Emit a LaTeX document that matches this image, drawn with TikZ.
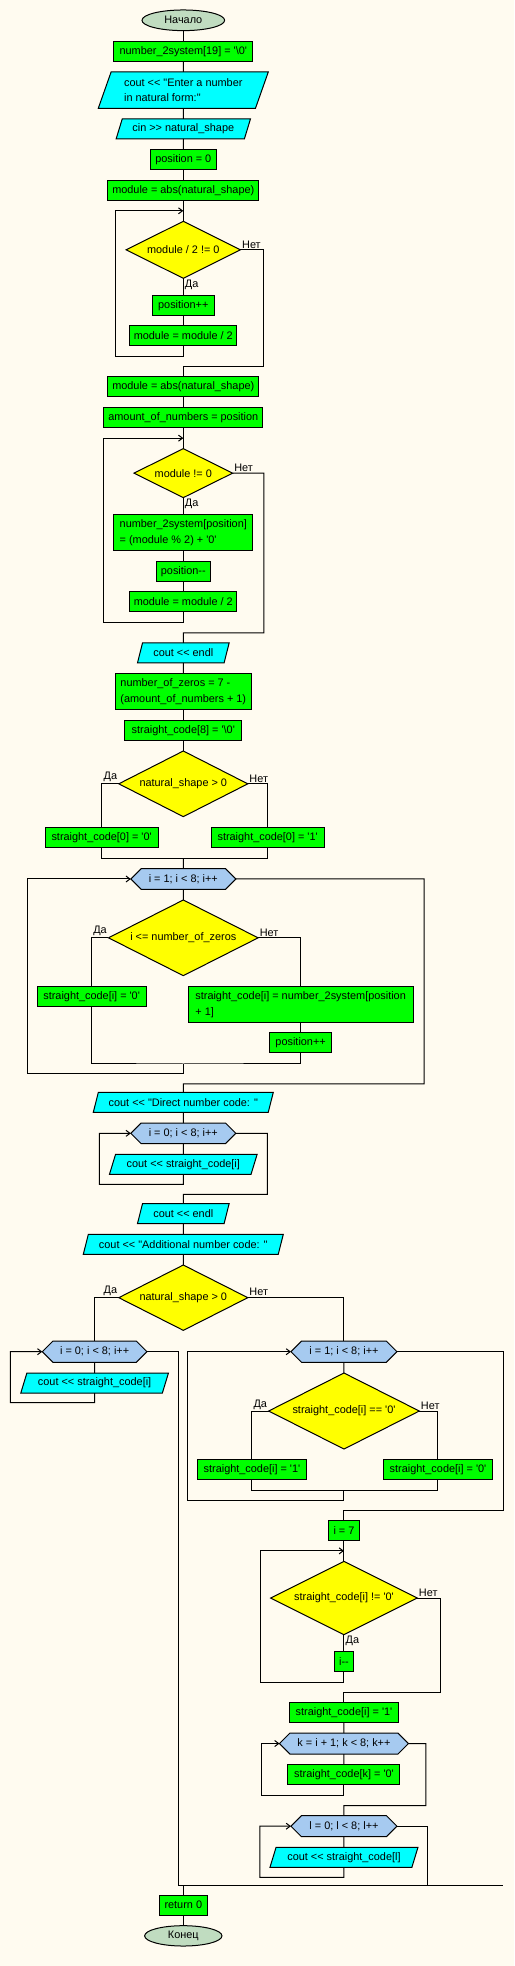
\documentclass[tikz,border=0pt]{standalone}
\usepackage{fontspec}
\setmainfont{Liberation Sans}[Ligatures=TeXOff]
\usepackage{tikz}
\usetikzlibrary{shapes.geometric, shapes.symbols, arrows.meta, positioning, calc}
\definecolor{chartbg}{HTML}{FFFBF0}
\definecolor{termgreen}{HTML}{C0DCC0}
\definecolor{loopblue}{HTML}{A6CAF0}
\definecolor{actgreen}{HTML}{00FF00}
\definecolor{iocyan}{HTML}{00FFFF}
\definecolor{condyellow}{HTML}{FFFF00}

\begin{document}
\begin{tikzpicture}[x=0.3mm, y=-0.3mm, node distance=3.2mm, line width=0.3mm,
  every node/.style={font=\fontsize{9.3}{13.6}\selectfont},
  base/.style={draw=black, inner sep=1pt, outer sep=0pt, minimum height=6mm},
  term/.style={base, ellipse, fill=termgreen},
  box/.style={base, rectangle, fill=actgreen, align=left},
  io/.style={base, trapezium, trapezium left angle=64, trapezium right angle=116,
    trapezium stretches body, fill=iocyan, align=left},
  cond/.style={base, diamond, aspect=2, inner sep=0pt, fill=condyellow},
  loophead/.style={base, signal, signal to=west and east, signal pointer angle=90,
    fill=loopblue},
  lbl/.style={inner sep=1pt},
  arr/.style={-{Straight Barb[length=1.2mm, width=1.8mm]}}]
  \useasboundingbox (0,0) rectangle (514,1966);
  \fill[chartbg] (0,0) rectangle (514,1966);

  % input and first loop
  \node[term, minimum width=24.8mm, minimum height=6.2mm] (start) at (183.3,20.3) {Начало};
  \node[box, minimum width=41.7mm, below=of start] (sys19) {number\_2system[19] = '\textbackslash 0'};
  \node[io, minimum width=51mm, minimum height=10.9mm, below=of sys19] (askin) {cout << "Enter a number\\in natural form:"};
  \node[io, minimum width=40.3mm, below=of askin] (readin) {cin >> natural\_shape};
  \node[box, minimum width=19.8mm, below=of readin] (pos0) {position = 0};
  \node[box, minimum width=45.3mm, below=of pos0] (absa) {module = abs(natural\_shape)};
  \node[cond, minimum width=34.3mm, minimum height=17.1mm, below=6.3mm of absa] (whilea) {module / 2 != 0};
  \node[box, minimum width=18.6mm, below=5.1mm of whilea] (posinc) {position++};
  \node[box, minimum width=32.1mm, below=of posinc] (diva) {module = module / 2};
  % second loop
  \node[box, minimum width=45.3mm, below=9.3mm of diva] (absb) {module = abs(natural\_shape)};
  \node[box, minimum width=47.7mm, below=of absb] (amount) {amount\_of\_numbers = position};
  \node[cond, minimum width=29.6mm, minimum height=14.7mm, below=6.3mm of amount] (whileb) {module != 0};
  \node[box, minimum width=41.7mm, minimum height=10.9mm, below=5mm of whileb] (digit) {number\_2system[position]\\= (module \% 2) + '0'};
  \node[box, minimum width=16.2mm, below=of digit] (posdec) {position--};
  \node[box, minimum width=32.1mm, below=of posdec] (divb) {module = module / 2};
  % straight code
  \node[io, minimum width=27.5mm, below=9.3mm of divb] (endla) {cout << endl};
  \node[box, minimum width=40.8mm, minimum height=10.8mm, below=of endla] (zeros) {number\_of\_zeros = 7 -\\(amount\_of\_numbers + 1)};
  \node[box, minimum width=35.1mm, below=of zeros] (code8) {straight\_code[8] = '\textbackslash 0'};
  \node[cond, minimum width=38.7mm, minimum height=19.7mm, below=of code8] (signa) {natural\_shape > 0};
  \node[box, minimum width=33.9mm, below=of signa, xshift=-24.5mm] (sign0) {straight\_code[0] = '0'};
  \node[box, minimum width=33.9mm, below=of signa, xshift=25.3mm] (sign1) {straight\_code[0] = '1'};
  \node[loophead, minimum width=31.5mm, minimum height=6.2mm, below=15.6mm of signa] (fora) {i = 1; i < 8; i++};
  \node[cond, minimum width=44.9mm, minimum height=22.7mm, below=of fora] (zerosq) {i <= number\_of\_zeros};
  \node[box, minimum width=32.7mm, below=of zerosq, xshift=-27.5mm] (fill0) {straight\_code[i] = '0'};
  \node[box, minimum width=67.5mm, minimum height=10.8mm, below=of zerosq, xshift=35.2mm] (fillbit) {straight\_code[i] = number\_2system[position\\+ 1]};
  \node[box, minimum width=18.6mm, below=of fillbit] (posinc2) {position++};
  % output
  \node[io, minimum width=54mm, below=35mm of zerosq] (direct) {cout << "Direct number code: "};
  \node[loophead, minimum width=31.5mm, minimum height=6.2mm, below=of direct] (forb) {i = 0; i < 8; i++};
  \node[io, minimum width=44.3mm, below=of forb] (outa) {cout << straight\_code[i]};
  \node[io, minimum width=27.5mm, below=8.8mm of outa] (endlb) {cout << endl};
  \node[io, minimum width=60mm, below=of endlb] (additional) {cout << "Additional number code: "};
  \node[cond, minimum width=38.7mm, minimum height=19.6mm, below=of additional] (signb) {natural\_shape > 0};
  \node[loophead, minimum width=31.4mm, minimum height=6.4mm, below=of signb, xshift=-26.6mm] (forc) {i = 0; i < 8; i++};
  \node[io, minimum width=44.3mm, below=of forc] (outb) {cout << straight\_code[i]};
  % additional code
  \node[loophead, minimum width=31.8mm, minimum height=6.4mm, below=of signb, xshift=48.2mm] (ford) {i = 1; i < 8; i++};
  \node[cond, minimum width=45.2mm, minimum height=22.8mm, below=of ford] (bitq) {straight\_code[i] == '0'};
  \node[box, minimum width=32.7mm, below=of bitq, xshift=-27.6mm] (inv1) {straight\_code[i] = '1'};
  \node[box, minimum width=32.7mm, below=of bitq, xshift=28.2mm] (inv0) {straight\_code[i] = '0'};
  \node[box, minimum width=9.3mm, below=21.4mm of bitq] (seti) {i = 7};
  \node[cond, minimum width=44mm, minimum height=22mm, below=6.3mm of seti] (findq) {straight\_code[i] != '0'};
  \node[box, minimum width=5.7mm, below=5mm of findq] (idec) {i--};
  \node[box, minimum width=32.7mm, below=9.3mm of idec] (setone) {straight\_code[i] = '1'};
  \node[loophead, minimum width=38.7mm, minimum height=6.3mm, below=of setone] (fore) {k = i + 1; k < 8; k++};
  \node[box, minimum width=33.6mm, below=of fore] (clear) {straight\_code[k] = '0'};
  \node[loophead, minimum width=31.8mm, minimum height=6.3mm, below=9.3mm of clear] (forf) {l = 0; l < 8; l++};
  \node[io, minimum width=44.4mm, below=of forf] (outc) {cout << straight\_code[l]};
  \node[box, minimum width=14.4mm, below=169.4mm of signb] (ret) {return 0};
  \node[term, minimum width=23.2mm, minimum height=6.1mm, below=of ret] (finish) {Конец};

  % loop corners
  \coordinate (enta) at ($(absa.south)!0.5!(whilea.north)$);
  \coordinate (lefta) at ($(whilea.west)+(-10.4,0)$);
  \coordinate (righta) at ($(whilea.east)+(23.3,0)$);
  \coordinate (backa) at ($(diva.south)+(0,10.7)$);
  \coordinate (exita) at ($(diva.south)+(0,20.7)$);
  \coordinate (entb) at ($(amount.south)!0.5!(whileb.north)$);
  \coordinate (leftb) at ($(whileb.west -| digit.west)+(-10,0)$);
  \coordinate (rightb) at ($(whileb.east -| digit.east)+(11,0)$);
  \coordinate (backb) at ($(divb.south)+(0,11)$);
  \coordinate (exitb) at ($(divb.south)+(0,21)$);
  \coordinate (joina) at ($(signa |- sign0.south)+(0,11)$);
  \coordinate (joinb) at ($(zerosq |- posinc2.south)+(0,11)$);
  \coordinate (backc) at ($(joinb)+(0,10)$);
  \coordinate (leftc) at ($(fora.west -| fill0.west)+(-10,0)$);
  \coordinate (rightc) at ($(fora.east -| fillbit.east)+(11,0)$);
  \coordinate (exitc) at ($(backc)+(0,10)$);
  \coordinate (backd) at ($(outa.south)+(0,10)$);
  \coordinate (leftd) at ($(forb.west -| outa.bottom left corner)+(-10,0)$);
  \coordinate (rightd) at ($(forb.east -| outa.top right corner)+(10.3,0)$);
  \coordinate (exitd) at ($(backd)+(0,10)$);
  \coordinate (backe) at ($(outb.south)+(0,9.7)$);
  \coordinate (lefte) at ($(forc.west -| outb.bottom left corner)+(-10.4,0)$);
  \coordinate (righte) at ($(forc.east -| outb.top right corner)+(10,0)$);
  \coordinate (joinc) at ($(ret.north)+(0,-10)$);
  \coordinate (joind) at ($(bitq |- inv1.south)+(0,11)$);
  \coordinate (backf) at ($(joind)+(0,10)$);
  \coordinate (leftf) at ($(ford.west -| inv1.west)+(-10,0)$);
  \coordinate (rightf) at ($(ford.east -| inv0.east)+(11,0)$);
  \coordinate (exitf) at ($(backf)+(0,10)$);
  \coordinate (entg) at ($(seti.south)!0.5!(findq.north)$);
  \coordinate (leftg) at ($(findq.west)+(-10.4,0)$);
  \coordinate (rightg) at ($(findq.east)+(23,0)$);
  \coordinate (backg) at ($(idec.south)+(0,10.7)$);
  \coordinate (exitg) at ($(idec.south)+(0,20.7)$);
  \coordinate (backh) at ($(clear.south)+(0,10.7)$);
  \coordinate (lefth) at ($(fore.west)+(-17.7,0)$);
  \coordinate (righth) at ($(fore.east)+(17.3,0)$);
  \coordinate (exith) at ($(backh)+(0,10.3)$);
  \coordinate (backi) at ($(outc.south)+(0,10)$);
  \coordinate (lefti) at ($(forf.west -| outc.bottom left corner)+(-10,0)$);
  \coordinate (righti) at ($(forf.east -| outc.top right corner)+(10,0)$);

  % main column
  \draw (start) -- (sys19);
  \draw (sys19) -- (askin);
  \draw (askin) -- (readin);
  \draw (readin) -- (pos0);
  \draw (pos0) -- (absa);
  \draw (absa) -- (whilea);
  \draw (whilea.south) node[lbl, below right] {Да} -- (posinc);
  \draw (posinc) -- (diva);
  \draw[arr] (diva) -- (backa) -| (lefta) |- (enta);
  \draw (whilea.east) node[lbl, above right] {Нет} -| (righta) |- (exita) -- (absb);
  \draw (absb) -- (amount);
  \draw (amount) -- (whileb);
  \draw (whileb.south) node[lbl, below right] {Да} -- (digit);
  \draw (digit) -- (posdec);
  \draw (posdec) -- (divb);
  \draw[arr] (divb) -- (backb) -| (leftb) |- (entb);
  \draw (whileb.east) node[lbl, above right] {Нет} -| (rightb) |- (exitb) -- (endla);
  \draw (endla) -- (zeros);
  \draw (zeros) -- (code8);
  \draw (code8) -- (signa);
  \draw (signa.west) node[lbl, above left] {Да} -| (sign0);
  \draw (signa.east) node[lbl, above right] {Нет} -| (sign1);
  \draw (sign0) |- (joina) -| (sign1);
  \draw (joina) -- (fora);
  \draw (fora) -- (zerosq);
  \draw (zerosq.west) node[lbl, above left] {Да} -| (fill0);
  \draw (zerosq.east) node[lbl, above right] {Нет} -| (fillbit);
  \draw (fillbit) -- (posinc2);
  \draw (fill0) |- (joinb) -| (posinc2);
  \draw[arr] (joinb) -- (backc) -| (leftc) |- (fora.west);
  \draw (fora.east) -| (rightc) |- (exitc) -- (direct);
  \draw (direct) -- (forb);
  \draw (forb) -- (outa);
  \draw[arr] (outa) -- (backd) -| (leftd) |- (forb.west);
  \draw (forb.east) -| (rightd) |- (exitd) -- (endlb);
  \draw (endlb) -- (additional);
  \draw (additional) -- (signb);
  \draw (signb.west) node[lbl, above left] {Да} -| (forc);
  \draw (signb.east) node[lbl, above right] {Нет} -| (ford);
  % positive branch
  \draw (forc) -- (outb);
  \draw[arr] (outb) -- (backe) -| (lefte) |- (forc.west);
  \draw (forc.east) -| (righte) |- (joinc -| rightf);
  % negative branch
  \draw (ford) -- (bitq);
  \draw (bitq.west) node[lbl, above left] {Да} -| (inv1);
  \draw (bitq.east) node[lbl, above right] {Нет} -| (inv0);
  \draw (inv1) |- (joind) -| (inv0);
  \draw[arr] (joind) -- (backf) -| (leftf) |- (ford.west);
  \draw (ford.east) -| (rightf) |- (exitf) -- (seti);
  \draw (seti) -- (findq);
  \draw (findq.south) node[lbl, below right] {Да} -- (idec);
  \draw[arr] (idec) -- (backg) -| (leftg) |- (entg);
  \draw (findq.east) node[lbl, above right] {Нет} -| (rightg) |- (exitg) -- (setone);
  \draw (setone) -- (fore);
  \draw (fore) -- (clear);
  \draw[arr] (clear) -- (backh) -| (lefth) |- (fore.west);
  \draw (fore.east) -| (righth) |- (exith) -- (forf);
  \draw (forf) -- (outc);
  \draw[arr] (outc) -- (backi) -| (lefti) |- (forf.west);
  \draw (forf.east) -| (righti |- joinc);
  % end
  \draw (joinc) -- (ret);
  \draw (ret) -- (finish);
\end{tikzpicture}
\end{document}
